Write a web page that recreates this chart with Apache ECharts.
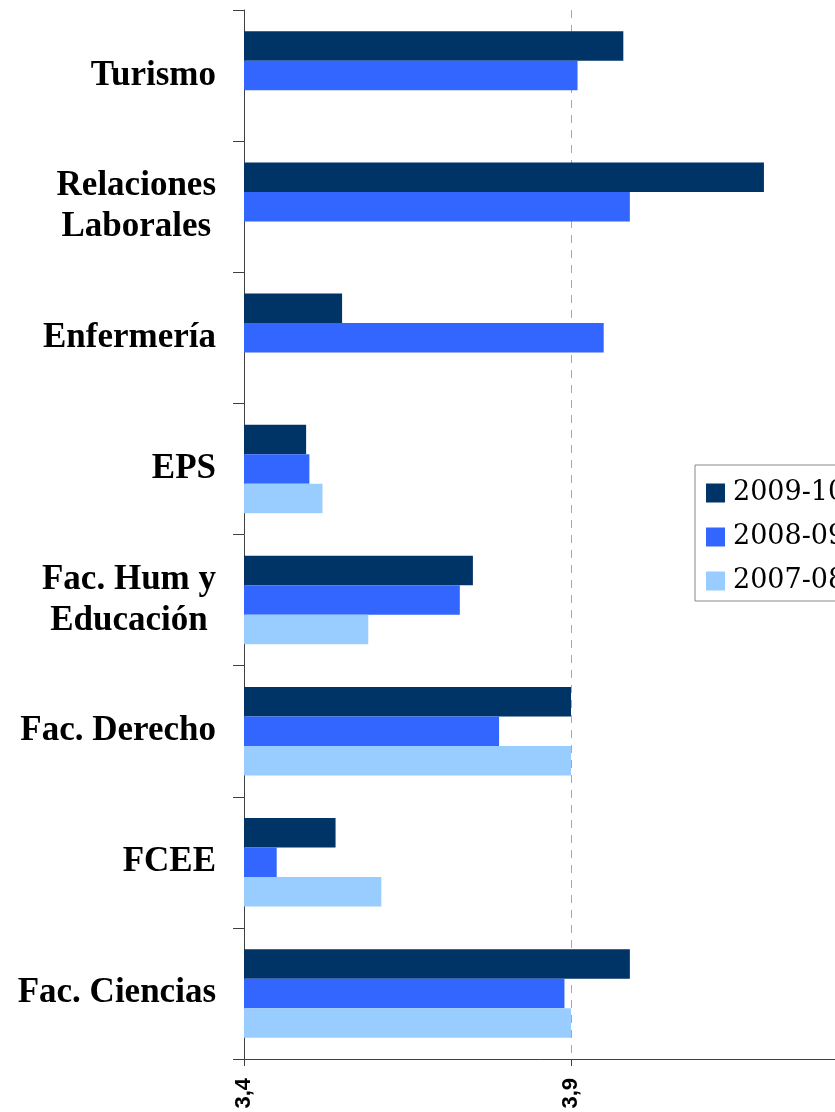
<!DOCTYPE html>
<html>
<head>
<meta charset="utf-8">
<script src="https://cdn.jsdelivr.net/npm/echarts@6/dist/echarts.min.js"></script>
<style>
  html, body { margin: 0; padding: 0; background: #ffffff; }
  #chart { width: 835px; height: 1112px; }
</style>
</head>
<body>
<div id="chart"></div>
<script>
// Centres, listed top to bottom
const categories = [
  'Turismo',
  'Relaciones\nLaborales',
  'Enfermería',
  'EPS',
  'Fac. Hum y\nEducación',
  'Fac. Derecho',
  'FCEE',
  'Fac. Ciencias'
];

const seriesNames = ['2009-10', '2008-09', '2007-08'];

const values2009_10 = [3.98, 4.195, 3.55, 3.495, 3.75, 3.90, 3.54, 3.99];
const values2008_09 = [3.91, 3.99, 3.95, 3.50, 3.73, 3.79, 3.45, 3.89];
const values2007_08 = [null, null, null, 3.52, 3.59, 3.90, 3.61, 3.90];

const axisMin = 3.4;
const axisMax = 4.4;
const axisStep = 0.5;

const colors = ['#003366', '#3366FF', '#99CCFF'];

const chart = echarts.init(document.getElementById('chart'), null, { renderer: 'canvas' });

const labelFont = {
  fontFamily: '"Liberation Serif", "Times New Roman", serif',
  fontWeight: 'bold',
  fontSize: 35,
  lineHeight: 41,
  color: '#000000'
};

function makeBar(name, data, color) {
  return {
    name: name,
    type: 'bar',
    data: data,
    barGap: '0%',
    barCategoryGap: '32.5%',
    itemStyle: { color: color },
    emphasis: { disabled: true },
    animation: false
  };
}

chart.setOption({
  animation: false,
  backgroundColor: '#ffffff',
  grid: {
    left: 244,
    top: 10,
    right: -63,
    bottom: 53,
    containLabel: false,
    outerBoundsMode: 'none'
  },
  legend: {
    orient: 'vertical',
    left: 695,
    top: 465,
    data: seriesNames,
    icon: 'rect',
    itemWidth: 19,
    itemHeight: 19,
    itemGap: 14,
    padding: [13, 40, 5, 11],
    borderColor: '#888888',
    borderWidth: 1,
    textStyle: {
      fontFamily: '"DejaVu Serif", serif',
      fontSize: 27,
      lineHeight: 30,
      color: '#000000',
      padding: [0, 0, 0, 3]
    }
  },
  xAxis: {
    type: 'value',
    min: axisMin,
    max: axisMax,
    interval: axisStep,
    position: 'bottom',
    axisLine: { show: true, lineStyle: { color: '#404040', width: 1 } },
    axisTick: { show: true, length: 7, lineStyle: { color: '#404040' } },
    splitLine: { show: true, lineStyle: { color: '#a8a8a8', type: [8, 7], width: 1 } },
    axisLabel: {
      rotate: 90,
      margin: 19,
      fontFamily: '"Liberation Sans", Arial, sans-serif',
      fontWeight: 'bold',
      fontSize: 22,
      color: '#000000',
      formatter: function (v) { return v.toFixed(1).replace('.', ','); }
    }
  },
  yAxis: {
    type: 'category',
    inverse: true,
    data: categories,
    axisLine: { show: true, lineStyle: { color: '#404040', width: 1 } },
    axisTick: { show: true, length: 11, lineStyle: { color: '#404040' } },
    splitLine: { show: false },
    axisLabel: {
      margin: 28,
      align: 'right',
      ...labelFont,
      formatter: function (v) {
        return v.split('\n').map(function (l) { return '{c|' + l + '}'; }).join('\n');
      },
      rich: {
        c: Object.assign({ align: 'center' }, labelFont)
      }
    }
  },
  series: [
    makeBar(seriesNames[0], values2009_10, colors[0]),
    makeBar(seriesNames[1], values2008_09, colors[1]),
    makeBar(seriesNames[2], values2007_08, colors[2])
  ]
});
</script>
</body>
</html>
